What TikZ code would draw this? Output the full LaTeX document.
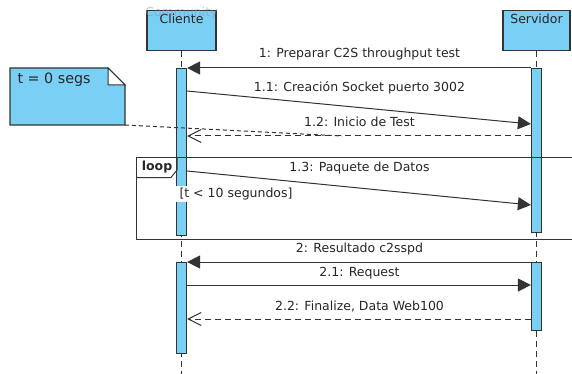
\documentclass[tikz,border=0pt]{standalone}
\usepackage{fontspec}
\setmainfont{DejaVu Sans}
\usetikzlibrary{arrows.meta, positioning, calc}
\definecolor{lifeblue}{HTML}{7ACFF5}
\definecolor{edgegray}{HTML}{333333}
\definecolor{txtgray}{HTML}{262626}
\definecolor{markgray}{HTML}{8A949C}

\begin{document}
\begin{tikzpicture}[x=1pt, y=-1pt, line width=1pt,
  font=\fontsize{12.5}{14}\selectfont, text=txtgray,
  actor/.style={fill=lifeblue, draw=edgegray, line width=1.2pt, anchor=north,
                minimum height=40pt, inner xsep=0pt, inner ysep=3.2pt,
                text height=9.5pt, text depth=24.1pt},
  act/.style={fill=lifeblue, draw=edgegray, line width=1.2pt, anchor=north,
              minimum width=10pt, inner sep=0pt},
  lifeline/.style={draw=edgegray, line width=0.9pt, dash pattern=on 6pt off 4pt},
  call/.style={draw=edgegray, -{Triangle[length=13pt, width=13pt]}},
  reply/.style={draw=edgegray, dash pattern=on 6pt off 4pt,
                -{Straight Barb[length=13pt, width=13pt, line width=1pt]}},
  lbl/.style={anchor=base, inner sep=0pt}]

\useasboundingbox (0,0) rectangle (572,374);

% =========== LIFELINES ===========
\node[actor, minimum width=69pt] (cli) at (181.5,10) {Cliente};
\node[actor, minimum width=67pt] (srv) at (536.5,10) {Servidor};
\node[lbl, text=markgray, opacity=0.5] (wmark) at (181.5,17) {Community};

\coordinate (cliend) at (181.5,374);
\coordinate (srvend) at (536.5,374);
\draw[lifeline] (cli) -- (cliend);
\draw[lifeline] (srv) -- (srvend);

% activation bars
\node[act, minimum height=167pt] (cact1) at (181.5,68) {};
\node[act, minimum height=164pt] (sact1) at (536.5,68) {};
\node[act, minimum height=91pt] (cact2) at (181.5,262) {};
\node[act, minimum height=68pt] (sact2) at (536.5,262) {};

% =========== LOOP FRAME ===========
\draw[edgegray] (572,158) -- (136.5,158) -- (136.5,239) -- (572,239);
\draw[edgegray] (136.5,177.5) -- (171,177.5) -- (177,170) -- (177,158);
\node[lbl, font=\fontsize{12.5}{14}\selectfont\bfseries] (looplbl) at (157,171) {loop};
\node[lbl, anchor=base west, fill=white, inner xsep=4pt, inner ysep=2pt] (guard) at (175,197) {[t < 10 segundos]};

% =========== MESSAGES ===========
\draw[call] (sact1.west |- 0,68) -- (cact1.east |- 0,68);
\node[lbl] (m1) at (359.5,57.5) {1: Preparar C2S throughput test};

\draw[call] (cact1.east |- 0,91) -- (sact1.west |- 0,124);
\node[lbl] (m11) at (359.5,91.5) {1.1: Creación Socket puerto 3002};

\draw[reply] (sact1.west |- 0,136) -- coordinate[pos=0.55] (m12c) (cact1.east |- 0,136);
\node[lbl] (m12) at (359.5,127) {1.2: Inicio de Test};

\draw[call] (cact1.east |- 0,171) -- (sact1.west |- 0,205);
\node[lbl] (m13) at (359.5,171.5) {1.3: Paquete de Datos};

\draw[call] (sact2.west |- 0,262) -- (cact2.east |- 0,262);
\node[lbl] (m2) at (359.5,252.5) {2: Resultado c2sspd};

\draw[call] (cact2.east |- 0,285) -- (sact2.west |- 0,285);
\node[lbl] (m21) at (359.5,276) {2.1: Request};

\draw[reply] (sact2.west |- 0,319) -- (cact2.east |- 0,319);
\node[lbl] (m22) at (359.5,310.5) {2.2: Finalize, Data Web100};

% =========== NOTE ===========
\node[minimum width=114pt, minimum height=56pt, inner sep=0pt, anchor=north west] (note) at (10,68) {};
\filldraw[fill=lifeblue, draw=edgegray, line width=1.2pt]
  (note.north west) -- ([xshift=-17pt]note.north east) -- ([yshift=-17pt]note.north east)
  -- (note.south east) -- (note.south west) -- cycle;
\filldraw[fill=white, draw=edgegray, line width=1pt]
  ([xshift=-17pt]note.north east) -- ([xshift=-17pt, yshift=-17pt]note.north east)
  -- ([yshift=-17pt]note.north east) -- cycle;
\node[lbl, anchor=base west, font=\fontsize{14.3}{16}\selectfont] (notetxt) at (17,84) {t = 0 segs};
\draw[edgegray, dash pattern=on 4pt off 3pt] (note.south east) -- (m12c);

\end{tikzpicture}
\end{document}
